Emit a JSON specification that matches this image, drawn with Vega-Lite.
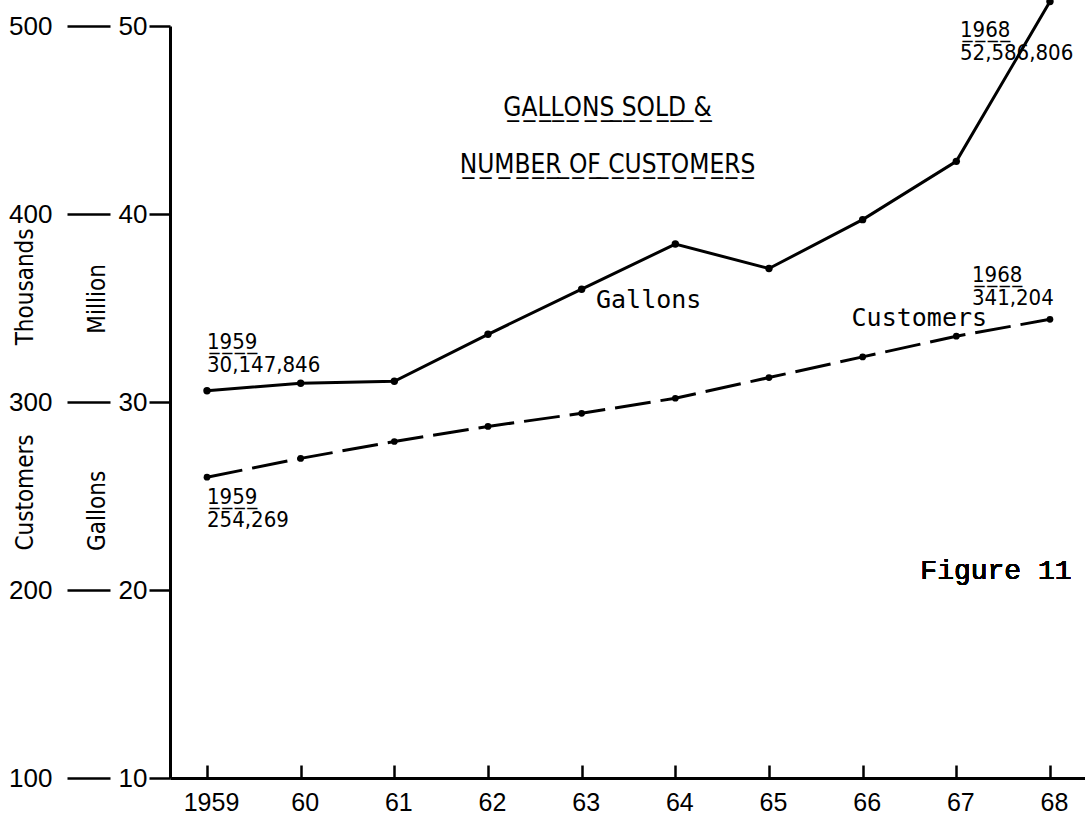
{
  "$schema": "https://vega.github.io/schema/vega-lite/v6.json",
  "width": 915,
  "height": 778,
  "autosize": {"type": "none"},
  "padding": {"left": 170, "top": 0, "right": 0, "bottom": 37},
  "background": "white",
  "config": {"view": {"stroke": null}},
  "title": {
    "text": ["G\u0332A\u0332L\u0332L\u0332O\u0332N\u0332S\u0332 \u0332S\u0332O\u0332L\u0332D\u0332 \u0332&\u0332", "N\u0332U\u0332M\u0332B\u0332E\u0332R\u0332 \u0332O\u0332F\u0332 \u0332C\u0332U\u0332S\u0332T\u0332O\u0332M\u0332E\u0332R\u0332S\u0332"],
    "anchor": "middle",
    "frame": "group",
    "baseline": "top",
    "offset": -182,
    "dx": -20,
    "lineHeight": 57,
    "font": "Liberation Sans Narrow, DejaVu Sans Condensed, Liberation Sans",
    "fontSize": 26,
    "fontWeight": "normal",
    "color": "black"
  },
  "data": {"values": [
    {"year": 1959, "gallons": 30.6, "customers": 260, "gNote": "1\u03329\u03325\u03329\u0332\n30,147,846", "cNote": "1\u03329\u03325\u03329\u0332\n254,269"},
    {"year": 1960, "gallons": 31.0, "customers": 270},
    {"year": 1961, "gallons": 31.1, "customers": 279},
    {"year": 1962, "gallons": 33.6, "customers": 287},
    {"year": 1963, "gallons": 36.0, "customers": 294},
    {"year": 1964, "gallons": 38.4, "customers": 302},
    {"year": 1965, "gallons": 37.1, "customers": 313},
    {"year": 1966, "gallons": 39.7, "customers": 324},
    {"year": 1967, "gallons": 42.8, "customers": 335},
    {"year": 1968, "gallons": 51.3, "customers": 344, "gNote": "1\u03329\u03326\u03328\u0332\n52,586,806", "cNote": "1\u03329\u03326\u03328\u0332\n341,204"}
  ]},
  "layer": [
    {
      "layer": [
        {
          "mark": {"type": "line", "color": "black", "strokeWidth": 3},
          "encoding": {
            "x": {"field": "year", "type": "quantitative",
              "scale": {"domain": [1958.605, 1968.374], "nice": false, "zero": false},
              "axis": {"values": [1959, 1960, 1961, 1962, 1963, 1964, 1965, 1966, 1967, 1968],
                "labelExpr": "datum.value == 1959 ? '1959' : substring(toString(datum.value), 2, 4)",
                "title": null, "grid": false, "domainColor": "black", "domainWidth": 3,
                "tickColor": "black", "tickWidth": 2.5, "tickSize": -13,
                "labelPadding": 25, "labelOffset": 4, "labelFont": "Liberation Sans", "labelFontSize": 25,
                "labelColor": "black", "labelBaseline": "top", "labelFlush": false}},
            "y": {"field": "gallons", "type": "quantitative",
              "scale": {"domain": [10, 50], "range": [778, 26], "nice": false, "zero": false},
              "axis": {"orient": "left", "values": [10, 20, 30, 40, 50], "format": "d", "grid": false,
                "domainColor": "black", "domainWidth": 3, "tickColor": "black", "tickWidth": 2.5, "tickSize": 21,
                "labelPadding": 2, "labelFont": "Liberation Sans", "labelFontSize": 26, "labelColor": "black",
                "title": "Gallons\u00a0\u00a0\u00a0\u00a0\u00a0\u00a0\u00a0\u00a0\u00a0\u00a0\u00a0\u00a0\u00a0\u00a0\u00a0\u00a0\u00a0\u00a0\u00a0\u00a0Million",
                "titleFont": "Liberation Sans Narrow, DejaVu Sans Condensed, Liberation Sans", "titleFontSize": 24, "titleFontWeight": "normal",
                "titleColor": "black", "titleAngle": -90, "titleBaseline": "bottom", "titleAlign": "center",
                "titleX": -61, "titleY": 407}}
          }
        },
        {
          "mark": {"type": "point", "filled": true, "color": "black", "size": 55, "opacity": 1},
          "encoding": {
            "x": {"field": "year", "type": "quantitative"},
            "y": {"field": "gallons", "type": "quantitative"}
          }
        },
        {
          "transform": [{"filter": "datum.year == 1959"}],
          "mark": {"type": "text", "align": "left", "baseline": "top", "dx": 0, "dy": -59, "lineBreak": "\n", "lineHeight": 23,
            "font": "Liberation Sans Narrow, DejaVu Sans Condensed, Liberation Sans", "fontSize": 22, "color": "black"},
          "encoding": {
            "x": {"field": "year", "type": "quantitative"},
            "y": {"field": "gallons", "type": "quantitative"},
            "text": {"field": "gNote"}
          }
        },
        {
          "transform": [{"filter": "datum.year == 1968"}],
          "mark": {"type": "text", "align": "left", "baseline": "top", "dx": -90, "dy": 18, "lineBreak": "\n", "lineHeight": 23,
            "font": "Liberation Sans Narrow, DejaVu Sans Condensed, Liberation Sans", "fontSize": 22, "color": "black"},
          "encoding": {
            "x": {"field": "year", "type": "quantitative"},
            "y": {"field": "gallons", "type": "quantitative"},
            "text": {"field": "gNote"}
          }
        },
        {
          "transform": [{"filter": "datum.year == 1963"}],
          "mark": {"type": "text", "align": "center", "baseline": "middle", "dx": 67, "dy": 11,
            "font": "DejaVu Sans Mono", "fontSize": 25, "color": "black"},
          "encoding": {
            "x": {"field": "year", "type": "quantitative"},
            "y": {"field": "gallons", "type": "quantitative"},
            "text": {"value": "Gallons"}
          }
        },
        {
          "mark": {"type": "text", "align": "center", "baseline": "middle", "dx": -54, "dy": -19,
            "font": "Liberation Mono", "fontSize": 28, "fontWeight": 300, "color": "black"},
          "encoding": {
            "x": {"datum": 1968, "type": "quantitative"},
            "y": {"datum": 20, "type": "quantitative"},
            "text": {"value": "Figure 11"}
          }
        }
      ]
    },
    {
      "layer": [
        {
          "mark": {"type": "line", "color": "black", "strokeWidth": 3, "strokeDash": [36, 10]},
          "encoding": {
            "x": {"field": "year", "type": "quantitative"},
            "y": {"field": "customers", "type": "quantitative",
              "scale": {"domain": [100, 500], "range": [778, 26], "nice": false, "zero": false},
              "axis": {"orient": "left", "offset": 60, "values": [100, 200, 300, 400, 500], "format": "d", "grid": false,
                "domain": false, "tickColor": "black", "tickWidth": 2.5, "tickSize": 43,
                "labelPadding": 15, "labelFont": "Liberation Sans", "labelFontSize": 26, "labelColor": "black",
                "title": "Customers\u00a0\u00a0\u00a0\u00a0\u00a0\u00a0\u00a0\u00a0\u00a0\u00a0\u00a0\u00a0\u00a0Thousands",
                "titleFont": "Liberation Sans Narrow, DejaVu Sans Condensed, Liberation Sans", "titleFontSize": 24, "titleFontWeight": "normal",
                "titleColor": "black", "titleAngle": -90, "titleBaseline": "bottom", "titleAlign": "center",
                "titleX": -73, "titleY": 389}}
          }
        },
        {
          "mark": {"type": "point", "filled": true, "color": "black", "size": 45, "opacity": 1},
          "encoding": {
            "x": {"field": "year", "type": "quantitative"},
            "y": {"field": "customers", "type": "quantitative"}
          }
        },
        {
          "transform": [{"filter": "datum.year == 1959"}],
          "mark": {"type": "text", "align": "left", "baseline": "top", "dx": 0, "dy": 10, "lineBreak": "\n", "lineHeight": 23,
            "font": "Liberation Sans Narrow, DejaVu Sans Condensed, Liberation Sans", "fontSize": 22, "color": "black"},
          "encoding": {
            "x": {"field": "year", "type": "quantitative"},
            "y": {"field": "customers", "type": "quantitative"},
            "text": {"field": "cNote"}
          }
        },
        {
          "transform": [{"filter": "datum.year == 1968"}],
          "mark": {"type": "text", "align": "left", "baseline": "top", "dx": -78, "dy": -54, "lineBreak": "\n", "lineHeight": 23,
            "font": "Liberation Sans Narrow, DejaVu Sans Condensed, Liberation Sans", "fontSize": 22, "color": "black"},
          "encoding": {
            "x": {"field": "year", "type": "quantitative"},
            "y": {"field": "customers", "type": "quantitative"},
            "text": {"field": "cNote"}
          }
        },
        {
          "transform": [{"filter": "datum.year == 1967"}],
          "mark": {"type": "text", "align": "center", "baseline": "middle", "dx": -37, "dy": -18,
            "font": "DejaVu Sans Mono", "fontSize": 25, "color": "black"},
          "encoding": {
            "x": {"field": "year", "type": "quantitative"},
            "y": {"field": "customers", "type": "quantitative"},
            "text": {"value": "Customers"}
          }
        }
      ]
    }
  ],
  "resolve": {"scale": {"y": "independent"}, "axis": {"y": "independent"}}
}
